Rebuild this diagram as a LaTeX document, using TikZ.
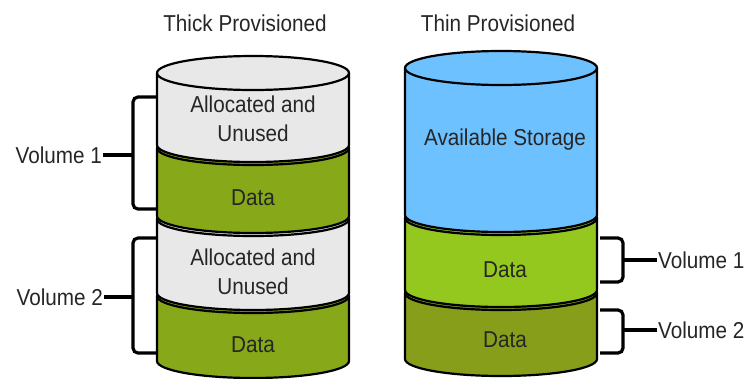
\documentclass[tikz,border=0pt]{standalone}
\usepackage{fontspec}
\setmainfont{Liberation Sans}
\usepackage{xcolor}
\usetikzlibrary{calc,positioning}
\definecolor{unusedGray}{HTML}{E8E8E8}
\definecolor{dataOlive}{HTML}{86A819}
\definecolor{storeBlue}{HTML}{6EC1FF}
\definecolor{dataLight}{HTML}{95C81E}
\definecolor{dataDark}{HTML}{869E1A}

% one slice of a cylinder: centre x, top y, bottom y, fill
\newcommand{\diskslice}[4]{%
  \filldraw[slice, fill=#4] (#1-96,#2) -- (#1-96,#3)
    arc[start angle=180, end angle=360, x radius=96pt, y radius=17pt]
    -- (#1+96,#2) arc[start angle=0, end angle=180, x radius=96pt, y radius=17pt] -- cycle;
  \draw[slice] (#1-96,#2) arc[start angle=180, end angle=360, x radius=96pt, y radius=17pt];
}

\begin{document}
\begin{tikzpicture}[x=1pt, y=-1pt,
  slice/.style={line width=2.2pt, draw=black},
  brace/.style={line width=3.2pt, draw=black, rounded corners=5pt},
  caption/.style={font=\fontsize{23}{27}\selectfont, xscale=0.9, transform shape, inner sep=1pt, text=black!85},
  inlabel/.style={font=\fontsize{23}{29}\selectfont, xscale=0.9, transform shape, align=center, inner sep=1pt, text=black!85},
]
\useasboundingbox (0,0) rectangle (751,378);

\node[caption] (thick) at (245,23) {Thick Provisioned};
\node[caption] (thin) at (498,23) {Thin Provisioned};

% thick disk, drawn from the bottom up
\foreach \yt/\yb/\col in {296/361/dataOlive, 219/293/unusedGray, 148/216/dataOlive, 73/145/unusedGray} {
  \diskslice{253}{\yt}{\yb}{\col}
}
% thin disk
\foreach \yt/\yb/\col in {293/359/dataDark, 218/290/dataLight, 68/215/storeBlue} {
  \diskslice{501}{\yt}{\yb}{\col}
}

\node[inlabel] (unused1) at (253,119) {Allocated and\\Unused};
\node[inlabel] (data1) at (253,198) {Data};
\node[inlabel] (unused2) at (253,272) {Allocated and\\Unused};
\node[inlabel] (data2) at (253,345) {Data};
\node[inlabel] (avail) at (505,140) {Available Storage};
\node[inlabel] (thindata1) at (505,270) {Data};
\node[inlabel] (thindata2) at (505,340) {Data};

% volume labels and braces
\node[caption, anchor=east] (thickvol1) at (103,155) {Volume 1};
\node[caption, anchor=east] (thickvol2) at (104,297) {Volume 2};
\node[caption, anchor=west] (thinvol1) at (657,260) {Volume 1};
\node[caption, anchor=west] (thinvol2) at (657,330) {Volume 2};

\coordinate (l1a) at (157,97);  \coordinate (l1m) at (133,155); \coordinate (l1b) at (157,209);
\coordinate (l2a) at (157,238); \coordinate (l2m) at (133,297); \coordinate (l2b) at (157,353);
\coordinate (r1a) at (600,238); \coordinate (r1m) at (623,260); \coordinate (r1b) at (600,282);
\coordinate (r2a) at (600,310); \coordinate (r2m) at (623,330); \coordinate (r2b) at (600,353);

\foreach \br/\lab in {l1/thickvol1, l2/thickvol2} {
  \draw[brace] (\br a) -| (\br m) |- (\br b);
  \draw[brace] (\lab.east) -- (\br m);
}
\foreach \br/\lab in {r1/thinvol1, r2/thinvol2} {
  \draw[brace] (\br a) -| (\br m) |- (\br b);
  \draw[brace] (\lab.west) -- (\br m);
}
\end{tikzpicture}
\end{document}
